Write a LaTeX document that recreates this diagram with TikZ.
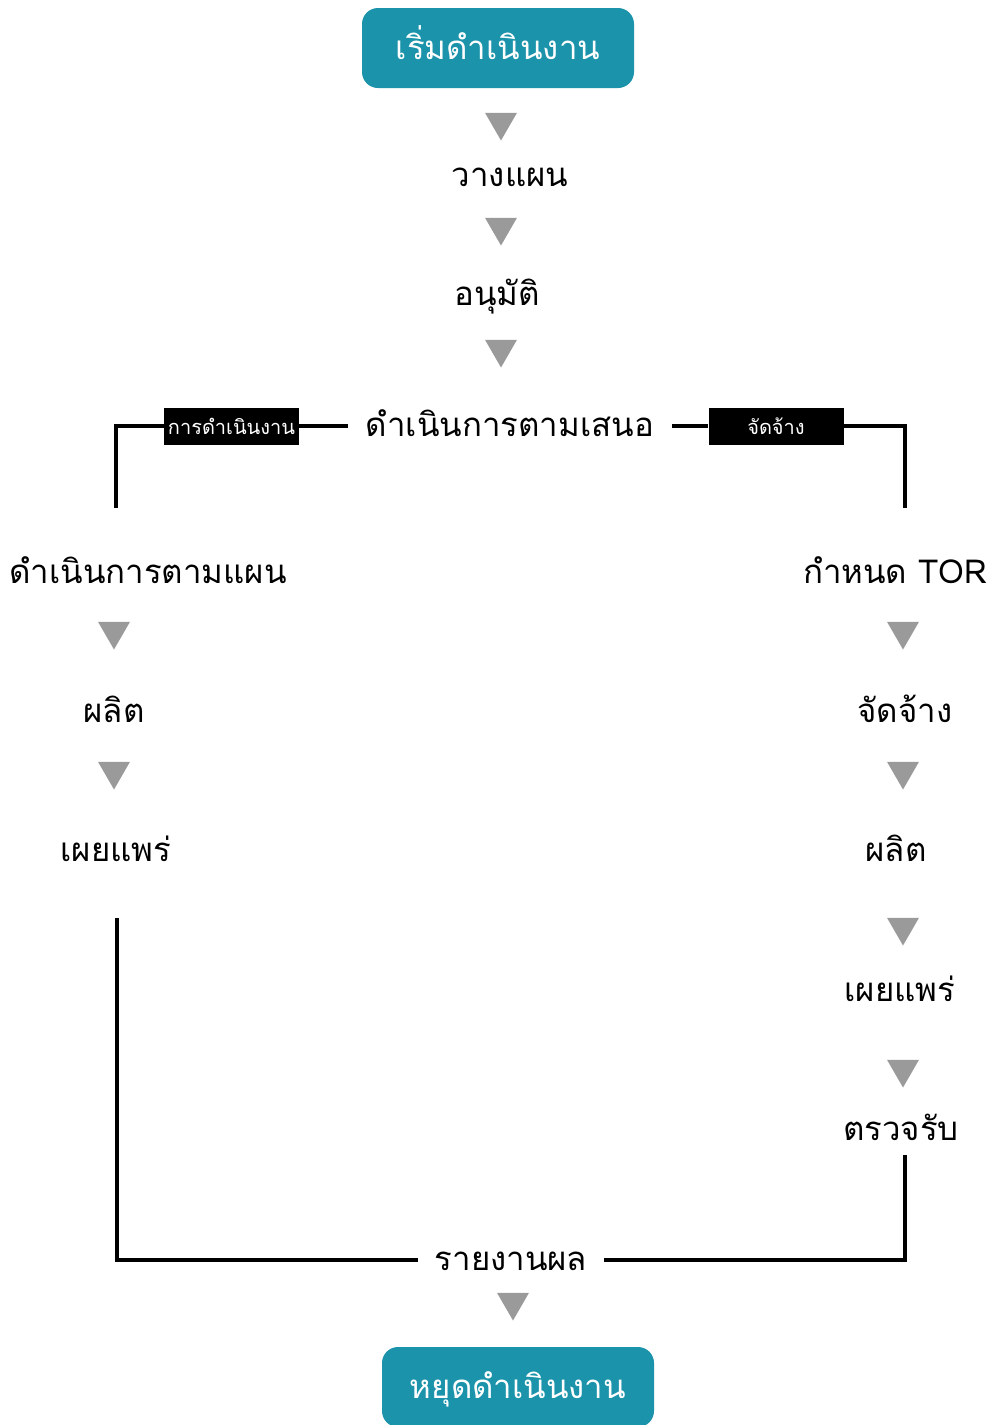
\documentclass[tikz,border=0pt]{standalone}
\usepackage{fontspec}
\newfontfamily\thaifont[Script=Thai]{Loma}
\usetikzlibrary{shapes.geometric}
\definecolor{termfill}{HTML}{1B93AA}
\definecolor{arrowgray}{HTML}{9A9A9A}
\begin{document}
\begin{tikzpicture}[x=1pt,y=-1pt,
  term/.style={rectangle, rounded corners=16pt, fill=termfill, text=white,
    minimum width=272pt, minimum height=80pt, inner sep=0pt,
    text height=22pt, text depth=0pt,
    font=\thaifont\fontsize{33}{37}\selectfont},
  lbl/.style={anchor=base, inner sep=0pt, text height=20pt, text depth=0pt,
    font=\thaifont\fontsize{33}{37}\selectfont},
  tri/.style={regular polygon, regular polygon sides=3, shape border rotate=180,
    fill=arrowgray, minimum size=37pt, inner sep=0pt},
  tag/.style={rectangle, fill=black, text=white, minimum width=135pt,
    minimum height=37pt, inner sep=0pt,
    font=\thaifont\fontsize{20}{24}\selectfont},
  wire/.style={line width=3.3pt}]
\useasboundingbox (0,0) rectangle (990,1425);

% main trunk
\node[term] (start) at (498,48) {เริ่มดำเนินงาน};
\node[tri] (t1) at (501,122) {};
\node[lbl] (plan) at (510,186) {วางแผน};
\node[tri] (t2) at (501,227) {};
\node[lbl] (approve) at (497,305) {อนุมัติ};
\node[tri] (t3) at (501,349) {};
\node[lbl, minimum width=324pt] (propose) at (510,436) {ดำเนินการตามเสนอ};

% branch tags, centred on the branch line
\node[tag] (tagL) at (propose.west -| 231.5,0) {การดำเนินงาน};
\node[tag] (tagR) at (propose.east -| 776,0) {จัดจ้าง};

% left branch: in-house work
\node[lbl] (L1) at (148,583) {ดำเนินการตามแผน};
\node[tri] (Lt1) at (114,631) {};
\node[lbl] (L2) at (114,722) {ผลิต};
\node[tri] (Lt2) at (114,771) {};
\node[lbl] (L3) at (116,861) {เผยแพร่};

% right branch: outsourced work
\node[lbl] (R1) at (895,583) {กำหนด TOR};
\node[tri] (Rt1) at (903,631) {};
\node[lbl] (R2) at (905,722) {จัดจ้าง};
\node[tri] (Rt2) at (903,771) {};
\node[lbl] (R3) at (896,861) {ผลิต};
\node[tri] (Rt3) at (903,927) {};
\node[lbl] (R4) at (900,1001) {เผยแพร่};
\node[tri] (Rt4) at (903,1069) {};
\node[lbl] (R5) at (901,1140) {ตรวจรับ};

% merge and finish
\node[lbl, minimum width=186pt] (report) at (511,1270) {รายงานผล};
\node[tri] (t4) at (513,1302) {};
\node[term] (stop) at (518,1387) {หยุดดำเนินงาน};

% connector end points
\coordinate (Ltop) at (116,508);
\coordinate (Rtop) at (905,508);
\coordinate (Lbot) at (117,918);
\coordinate (Rbot) at (905,1155);

\draw[wire] (propose.west) -- (tagL.east);
\draw[wire] (tagL.west) -| (Ltop);
\draw[wire] (propose.east) -- (tagR.west);
\draw[wire] (tagR.east) -| (Rtop);
\draw[wire] (Lbot) |- (report.west);
\draw[wire] (Rbot) |- (report.east);
\end{tikzpicture}
\end{document}
